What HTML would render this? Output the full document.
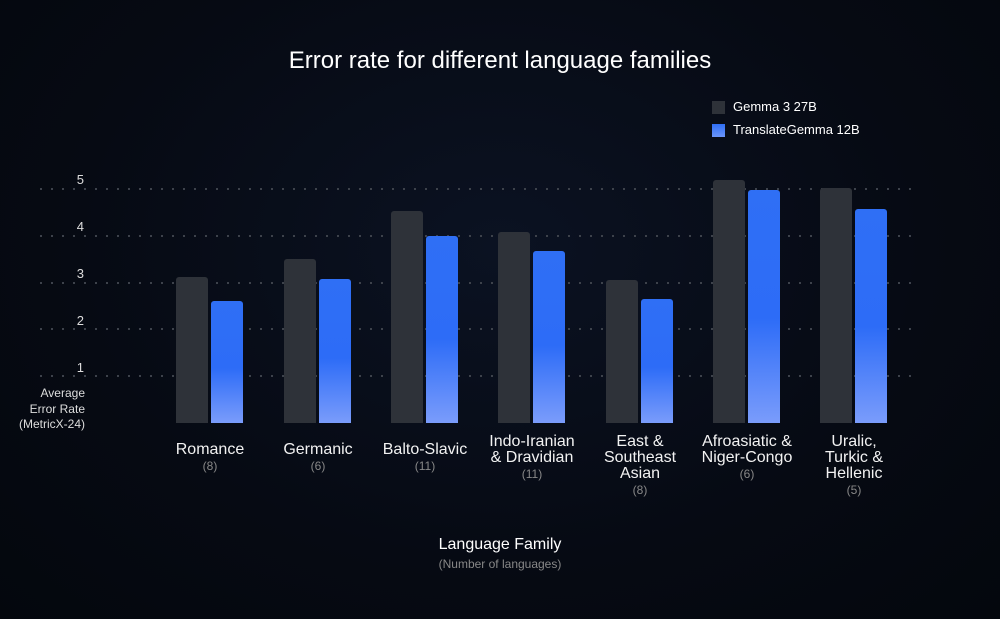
<!DOCTYPE html>
<html><head><style>
body{margin:0;width:1000px;height:619px;overflow:hidden;background:radial-gradient(ellipse at 50% 40%,#0b1222 0%,#060a13 60%,#04070d 100%);font-family:"Liberation Sans",sans-serif;color:#fff;position:relative}
.a{position:absolute}
.g{background:#2e3239;border-radius:3px 3px 0 0;width:32px}
.b{background:linear-gradient(180deg,#2f6ff5 0%,#2d6cf7 55%,#7a9cfb 100%);border-radius:3px 3px 0 0;width:32px}
.grid{left:40px;width:880px;height:2px;background:repeating-linear-gradient(90deg,#3d424b 0 2px,transparent 2px 11px)}
.yl{width:50px;text-align:right;left:34px;font-size:13px;color:#ddd}
.lab{width:120px;text-align:center;font-size:16px;line-height:16px;top:442px;color:#f2f2f2}
.lab span{font-size:12px;color:#888}
</style></head><body>
<div class="a" style="top:47px;width:1000px;text-align:center;font-size:24px">Error rate for different language families</div>
<div class="a" style="left:712px;top:101px;width:13px;height:13px;background:#2e3239"></div>
<div class="a" style="left:733px;top:99px;font-size:13px">Gemma 3 27B</div>
<div class="a" style="left:712px;top:124px;width:13px;height:13px;background:linear-gradient(180deg,#2f6ff5,#6b95fa)"></div>
<div class="a" style="left:733px;top:122px;font-size:13px">TranslateGemma 12B</div>
<div class="a grid" style="top:188px"></div><div class="a grid" style="top:235px"></div><div class="a grid" style="top:282px"></div><div class="a grid" style="top:328px"></div><div class="a grid" style="top:375px"></div>
<div class="a yl" style="top:172px">5</div><div class="a yl" style="top:219px">4</div><div class="a yl" style="top:266px">3</div><div class="a yl" style="top:313px">2</div><div class="a yl" style="top:360px">1</div>
<div class="a" style="left:0;width:85px;text-align:right;top:386px;font-size:12px;line-height:15.5px;color:#ddd">Average<br>Error Rate<br>(MetricX-24)</div>
<div class="a g" style="left:176px;top:277px;height:146px"></div><div class="a b" style="left:211px;top:301px;height:122px"></div>
<div class="a g" style="left:284px;top:259px;height:164px"></div><div class="a b" style="left:319px;top:279px;height:144px"></div>
<div class="a g" style="left:391px;top:211px;height:212px"></div><div class="a b" style="left:426px;top:236px;height:187px"></div>
<div class="a g" style="left:498px;top:232px;height:191px"></div><div class="a b" style="left:533px;top:251px;height:172px"></div>
<div class="a g" style="left:606px;top:280px;height:143px"></div><div class="a b" style="left:641px;top:299px;height:124px"></div>
<div class="a g" style="left:713px;top:180px;height:243px"></div><div class="a b" style="left:748px;top:190px;height:233px"></div>
<div class="a g" style="left:820px;top:188px;height:235px"></div><div class="a b" style="left:855px;top:209px;height:214px"></div>
<div class="a lab" style="left:150px">Romance<br><span>(8)</span></div>
<div class="a lab" style="left:258px">Germanic<br><span>(6)</span></div>
<div class="a lab" style="left:365px">Balto-Slavic<br><span>(11)</span></div>
<div class="a lab" style="left:472px;top:434px">Indo-Iranian<br>&amp; Dravidian<br><span>(11)</span></div>
<div class="a lab" style="left:580px;top:434px">East &amp;<br>Southeast<br>Asian<br><span>(8)</span></div>
<div class="a lab" style="left:687px;top:434px">Afroasiatic &amp;<br>Niger-Congo<br><span>(6)</span></div>
<div class="a lab" style="left:794px;top:434px">Uralic,<br>Turkic &amp;<br>Hellenic<br><span>(5)</span></div>
<div class="a" style="left:0;width:1000px;text-align:center;top:536px;font-size:16px">Language Family</div>
<div class="a" style="left:0;width:1000px;text-align:center;top:557px;font-size:12px;color:#888">(Number of languages)</div>
</body></html>
